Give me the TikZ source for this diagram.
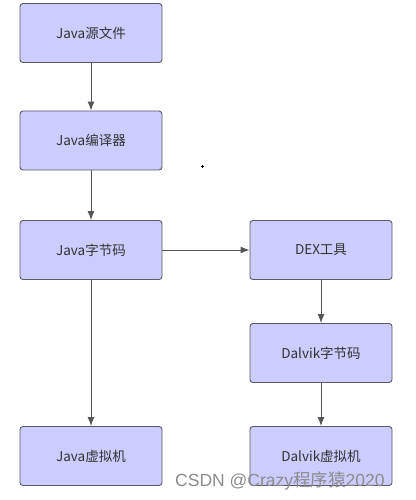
\documentclass[tikz,border=0pt]{standalone}
\usepackage{fontspec}
\setmainfont{Liberation Sans}
\newfontfamily\cjk{Noto Sans CJK SC}
\usetikzlibrary{arrows.meta}
\definecolor{boxfill}{HTML}{CCCCFF}
\definecolor{boxline}{HTML}{5A5A66}
\definecolor{txt}{HTML}{333333}
\definecolor{arr}{HTML}{555555}
\begin{document}
\begin{tikzpicture}[x=1pt,y=-1pt,
  box/.style={draw=boxline,line width=0.9pt,fill=boxfill,rounded corners=3pt,
    minimum width=142pt,minimum height=59pt,inner sep=0pt,text=txt,
    font=\cjk\fontsize{13.5}{15}\selectfont},
  conn/.style={draw=arr,line width=1pt,-{Latex[length=9pt,width=7pt]}}]
\useasboundingbox[fill=white] (0,0) rectangle (415,500);
\node[box] (src) at (91,33) {Java源文件};
\node[box] (comp) at (91,140.5) {Java编译器};
\node[box] (bc) at (91,250) {Java字节码};
\node[box] (jvm) at (91,456) {Java虚拟机};
\node[box] (dex) at (321,250) {DEX工具};
\node[box] (dbc) at (321,353) {Dalvik字节码};
\node[box] (dvm) at (321,456) {Dalvik虚拟机};
\draw[conn] (src) -- (comp);
\draw[conn] (comp) -- (bc);
\draw[conn] (bc) -- (jvm);
\draw[conn] (bc) -- (dex);
\draw[conn] (dex) -- (dbc);
\draw[conn] (dbc) -- (dvm);
\node[inner sep=0pt] (dot) at (202.5,166.5) {};
\draw[black,line width=0.8pt] ([xshift=-1.5pt]dot.center) -- ([xshift=1.5pt]dot.center)
  ([yshift=-1.5pt]dot.center) -- ([yshift=1.5pt]dot.center);
\node[anchor=west,inner sep=0pt,text=black!45,font=\fontsize{17.5}{19}\selectfont] (wm) at (175,481)
  {CSDN @Crazy{\cjk 程序猿}2020};
\end{tikzpicture}
\end{document}
